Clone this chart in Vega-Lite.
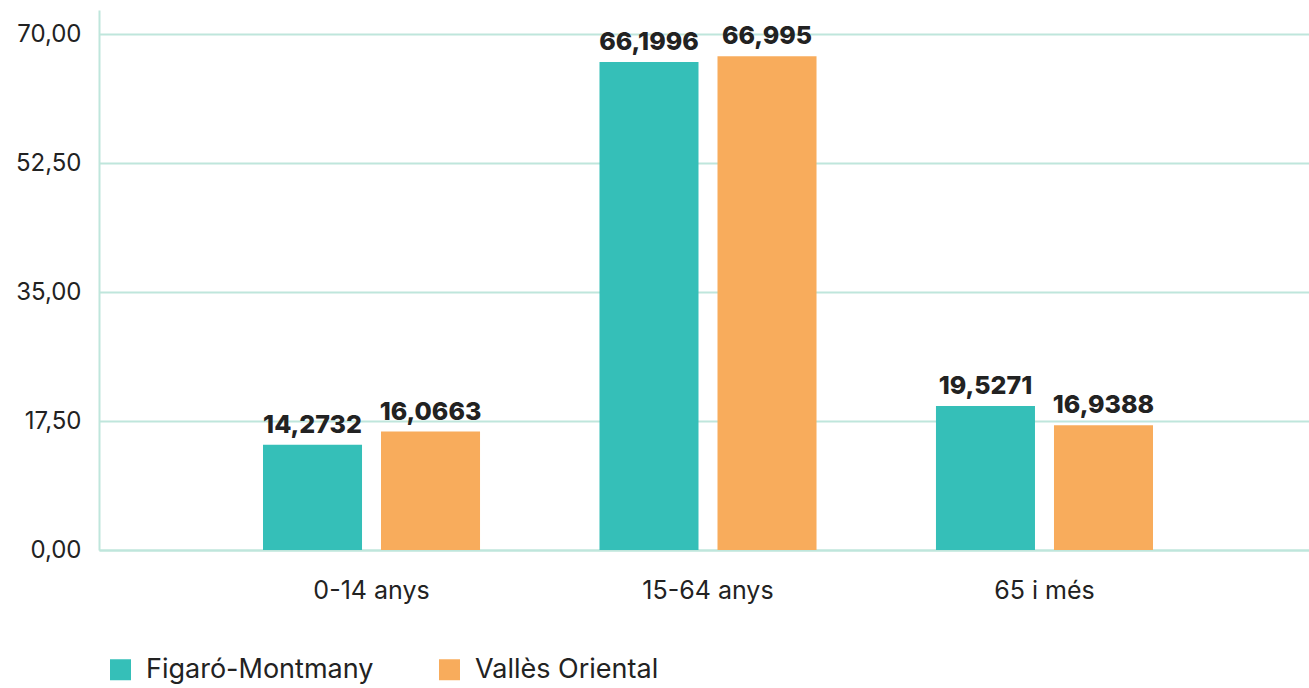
{
  "$schema": "https://vega.github.io/schema/vega-lite/v6.json",
  "autosize": {"type": "none"},
  "width": 1210,
  "height": 540,
  "padding": {"left": 99, "top": 10, "right": 0, "bottom": 138},
  "background": "white",
  "config": {
    "locale": {"number": {"decimal": ",", "thousands": ".", "grouping": [3], "currency": ["", " €"]}},
    "font": "Inter",
    "view": {"stroke": null}
  },
  "data": {
    "values": [
      {"grup": "0-14 anys", "territori": "Figaró-Montmany", "valor": 14.2732},
      {"grup": "0-14 anys", "territori": "Vallès Oriental", "valor": 16.0663},
      {"grup": "15-64 anys", "territori": "Figaró-Montmany", "valor": 66.1996},
      {"grup": "15-64 anys", "territori": "Vallès Oriental", "valor": 66.995},
      {"grup": "65 i més", "territori": "Figaró-Montmany", "valor": 19.5271},
      {"grup": "65 i més", "territori": "Vallès Oriental", "valor": 16.9388}
    ]
  },
  "encoding": {
    "x": {
      "field": "grup", "type": "nominal", "sort": null,
      "scale": {"paddingInner": 0.355, "paddingOuter": 0.4755, "align": 0.5125},
      "axis": {
        "title": null, "labelAngle": 0, "labelFontSize": 25, "labelColor": "#222222",
        "labelPadding": 28, "ticks": false, "domain": true, "domainColor": "#bfe6dc", "domainWidth": 2
      }
    },
    "xOffset": {
      "field": "territori", "type": "nominal",
      "scale": {"paddingInner": 0.161, "paddingOuter": 0}
    },
    "y": {
      "field": "valor", "type": "quantitative",
      "scale": {"domain": [0, 73.26], "nice": false},
      "axis": {
        "title": null, "values": [0, 17.5, 35, 52.5, 70], "format": ".2f",
        "labelFontSize": 24, "labelColor": "#222222", "labelPadding": 18, "ticks": false,
        "domainColor": "#bfe6dc", "domainWidth": 2,
        "grid": true, "gridColor": "#bfe6dc", "gridWidth": 2
      }
    }
  },
  "layer": [
    {
      "mark": {"type": "bar"},
      "encoding": {
        "color": {
          "field": "territori", "type": "nominal",
          "scale": {"domain": ["Figaró-Montmany", "Vallès Oriental"], "range": ["#35bfb8", "#f8ac5c"]},
          "legend": {
            "title": null, "orient": "none", "direction": "horizontal",
            "legendX": 8, "legendY": 646,
            "symbolType": "square", "symbolSize": 441, "symbolStrokeWidth": 0,
            "labelFontSize": 27, "labelColor": "#222222", "labelOffset": 12,
            "columnPadding": 62, "labelLimit": 400
          }
        }
      }
    },
    {
      "mark": {"type": "text", "baseline": "alphabetic", "dy": -12, "fontSize": 25, "fontWeight": 800, "color": "#222222"},
      "encoding": {
        "text": {"field": "valor", "type": "quantitative", "format": ".4~f"}
      }
    }
  ]
}
